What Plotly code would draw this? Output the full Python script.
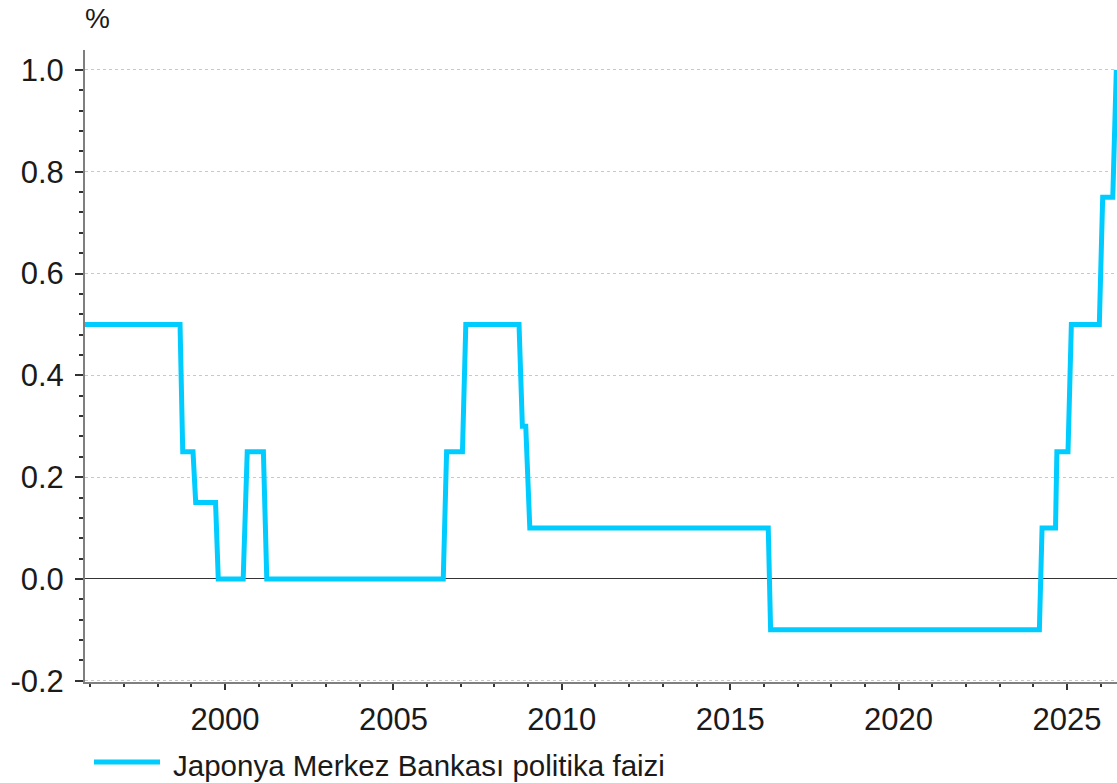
import plotly.graph_objects as go

# Policy rate (%) (decimal years)
years = [1995.5, 1998.665, 1998.745, 1999.05, 1999.13, 1999.72, 1999.80,
         2000.54, 2000.66, 2001.14, 2001.24, 2006.48, 2006.58, 2007.05,
         2007.15, 2008.73, 2008.83, 2008.93, 2009.05, 2016.13, 2016.20,
         2024.18, 2024.26, 2024.66, 2024.70, 2025.03, 2025.13, 2025.96,
         2026.06, 2026.36, 2026.465]
rate = [0.5, 0.5, 0.25, 0.25, 0.15, 0.15, 0.0,
        0.0, 0.25, 0.25, 0.0, 0.0, 0.25, 0.25,
        0.5, 0.5, 0.3, 0.3, 0.1, 0.1, -0.1,
        -0.1, 0.1, 0.1, 0.25, 0.25, 0.5, 0.5,
        0.75, 0.75, 1.0]
series_name = "Japonya Merkez Bankası politika faizi"
y_ticks = [-0.2, 0.0, 0.2, 0.4, 0.6, 0.8, 1.0]
y_tick_labels = ["-0.2", "0.0", "0.2", "0.4", "0.6", "0.8", "1.0"]
x_ticks = [2000, 2005, 2010, 2015, 2020, 2025]

FONT = "Arial, Liberation Sans, sans-serif"
TXT = "#1a1a1a"
AXIS = "#7f7f7f"
LINE = "#00CCFF"

fig = go.Figure()
fig.add_trace(go.Scatter(
    x=years, y=rate, mode="lines", name=series_name,
    line=dict(color=LINE, width=5), showlegend=False,
))

fig.update_layout(
    width=1117, height=783,
    margin=dict(l=85, r=0, t=50, b=101, autoexpand=False),
    paper_bgcolor="white", plot_bgcolor="white",
    font=dict(family=FONT, size=31, color=TXT),
    showlegend=False,
    shapes=[dict(type="line", xref="paper", yref="paper",
                 xsizemode="pixel", ysizemode="pixel", xanchor=0, yanchor=0,
                 x0=9, x1=75, y0=-80, y1=-80,
                 line=dict(color=LINE, width=5))],
    annotations=[
        dict(text="%", xref="paper", yref="paper", x=0, y=1.0,
             xshift=12, yshift=32, xanchor="center", yanchor="middle",
             showarrow=False, font=dict(size=28, color=TXT)),
        dict(text=series_name, xref="paper", yref="paper", x=0, y=0,
             xshift=86, yshift=-83, xanchor="left", yanchor="middle",
             showarrow=False, font=dict(size=29.5, color=TXT)),
    ],
)

fig.update_xaxes(
    range=[1995.843, 2026.485],
    tickvals=x_ticks, ticktext=[str(v) for v in x_ticks],
    ticks="outside", ticklen=6, tickwidth=1.5, tickcolor="#333",
    minor=dict(dtick=1, tick0=2000, ticks="outside", ticklen=3, tickcolor="#333", showgrid=False),
    showline=True, linecolor=AXIS, linewidth=2,
    showgrid=False, zeroline=False,
    tickfont=dict(size=31, color=TXT),
    ticklabelstandoff=3,
)

fig.update_yaxes(
    range=[-0.2024, 1.039],
    tickvals=y_ticks, ticktext=y_tick_labels,
    ticks="outside", ticklen=8, tickwidth=1.5, tickcolor="#333",
    minor=dict(dtick=0.04, tick0=0, ticks="outside", ticklen=4, tickcolor="#333", showgrid=False),
    showline=True, linecolor=AXIS, linewidth=2,
    showgrid=True, gridcolor="#c8c8c8", gridwidth=1, griddash="dot",
    zeroline=True, zerolinecolor="#333333", zerolinewidth=1.2,
    tickfont=dict(size=31, color=TXT),
    ticklabelstandoff=5,
)

fig.write_html(
    "out.html",
    config={"displayModeBar": False},
    post_script="document.body.style.margin='0';document.body.style.overflow='hidden';",
)
